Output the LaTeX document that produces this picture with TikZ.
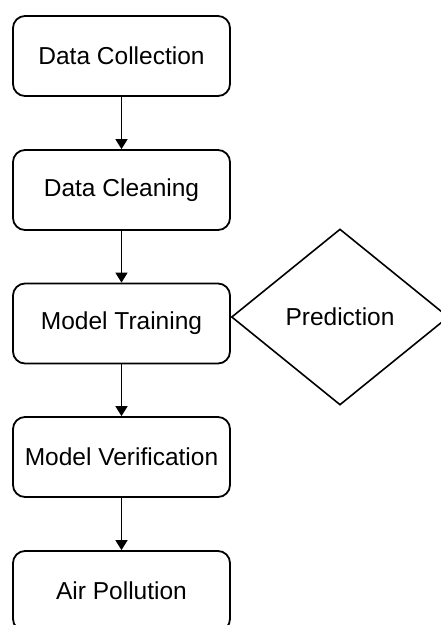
\documentclass[tikz,border=0pt]{standalone}
\usepackage{fontspec}
\setmainfont{Liberation Sans}
\usetikzlibrary{shapes.geometric,arrows.meta}
\begin{document}
\begin{tikzpicture}[x=1pt,y=1pt,
  stepbox/.style={draw=black, line width=1.8pt, rounded corners=12pt, fill=white,
    minimum width=217pt, minimum height=80pt, inner sep=0pt,
    font=\fontsize{24.5}{29}\selectfont},
  decbox/.style={draw=black, line width=1.6pt, diamond, inner sep=0pt,
    minimum width=217pt, minimum height=176pt, shape aspect=1.23,
    font=\fontsize{24.5}{29}\selectfont},
  flow/.style={draw=black, line width=1.6pt, -{Triangle[length=10pt,width=12pt]}}]
\useasboundingbox (0,0) rectangle (441,-625);
\fill[white] (0,0) rectangle (441,-625);
\node[stepbox] (dc) at (121.5,-56) {Data Collection};
\node[stepbox] (cl) at (121.5,-190) {Data Cleaning};
\node[stepbox] (mt) at (121.5,-323.5) {Model Training};
\node[stepbox] (mv) at (121.5,-457) {Model Verification};
\node[stepbox] (ap) at (121.5,-591) {Air Pollution};
\node[decbox] (pr) at (340,-317) {Prediction};
\draw[flow] (dc.south) -- (cl.north);
\draw[flow] (cl.south) -- (mt.north);
\draw[flow] (mt.south) -- (mv.north);
\draw[flow] (mv.south) -- (ap.north);
\end{tikzpicture}
\end{document}
